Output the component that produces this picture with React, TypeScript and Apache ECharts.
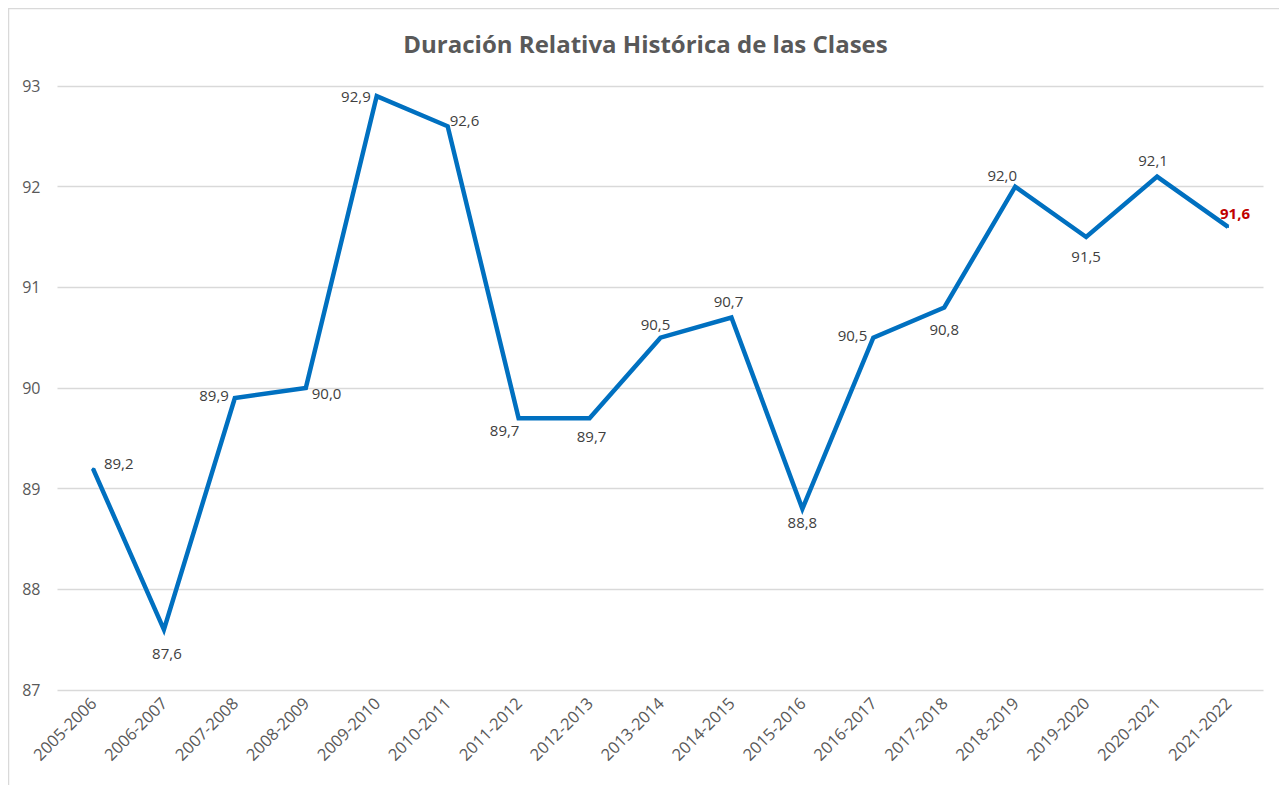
import React, { useEffect, useRef } from "react";
import * as echarts from "echarts";

const categories = [
  "2005-2006", "2006-2007", "2007-2008", "2008-2009", "2009-2010", "2010-2011",
  "2011-2012", "2012-2013", "2013-2014", "2014-2015", "2015-2016", "2016-2017",
  "2017-2018", "2018-2019", "2019-2020", "2020-2021", "2021-2022",
];
const values = [
  89.2, 87.6, 89.9, 90.0, 92.9, 92.6, 89.7, 89.7, 90.5, 90.7, 88.8, 90.5, 90.8,
  92.0, 91.5, 92.1, 91.6,
];
const yTicks = { min: 87, max: 93, interval: 1 };

// label placement per point (style only)
const labelPos: [string, number[]][] = [
  ["right", [5, -6]],
  ["bottom", [3, 10]],
  ["left", [0, -3]],
  ["right", [0, 5]],
  ["left", [0, 0]],
  ["right", [-4, -6]],
  ["bottom", [-14, -2]],
  ["bottom", [2, 4]],
  ["top", [-5, 0]],
  ["top", [-3, -3]],
  ["bottom", [0, 0]],
  ["left", [0, -3]],
  ["bottom", [0, 8]],
  ["top", [-13, 2]],
  ["bottom", [0, 5]],
  ["top", [-4, -3]],
  ["top", [7, 0]],
];

const FONT = "'Open Sans', 'Noto Sans', sans-serif";

export default function App() {
  const ref = useRef<HTMLDivElement>(null);
  useEffect(() => {
    if (!ref.current) return;
    const chart = echarts.init(ref.current, undefined, { renderer: "svg" });
    const last = values.length - 1;
    chart.setOption({
      animation: false,
      backgroundColor: "#ffffff",
      textStyle: { fontFamily: FONT },
      title: {
        text: "Duración Relativa Histórica de las Clases",
        left: "center",
        top: 18,
        textStyle: { fontFamily: FONT, fontSize: 24, fontWeight: "bold", color: "#595959" },
      },
      graphic: [
        {
          type: "rect",
          shape: { x: 0.5, y: 0.5, width: 1273, height: 820 },
          style: { fill: "none", stroke: "#D9D9D9", lineWidth: 1.5 },
          silent: true,
        },
      ],
      grid: { left: 49.5, right: 19.5, top: 78, bottom: 95 },
      xAxis: {
        type: "category",
        data: categories,
        boundaryGap: true,
        axisLine: { show: false },
        axisTick: { show: false },
        axisLabel: {
          rotate: 45,
          margin: 10,
          interval: 0,
          fontSize: 16.5,
          color: "#595959",
          fontFamily: FONT,
        },
      },
      yAxis: {
        type: "value",
        min: yTicks.min,
        max: yTicks.max,
        interval: yTicks.interval,
        axisLine: { show: false },
        axisTick: { show: false },
        splitLine: { lineStyle: { color: "#D9D9D9", width: 1.3 } },
        axisLabel: { fontSize: 16, color: "#595959", margin: 17, fontFamily: FONT },
      },
      series: [
        {
          type: "line",
          data: values.map((v, i) => ({
            value: v,
            label: {
              show: true,
              position: labelPos[i][0],
              offset: labelPos[i][1],
              ...(i === last
                ? { color: "#C00000", fontWeight: "bold", fontSize: 15 }
                : {}),
            },
          })),
          showSymbol: true,
          symbol: "circle",
          symbolSize: 2,
          lineStyle: { color: "#0070C0", width: 4.5, join: "miter" },
          itemStyle: { color: "#0070C0" },
          label: {
            show: true,
            distance: 5,
            fontSize: 15,
            color: "#404040",
            fontFamily: FONT,
            formatter: (p: any) => p.value.toFixed(1).replace(".", ","),
          },
        },
      ],
    });
    return () => chart.dispose();
  }, []);
  return <div ref={ref} style={{ width: 1275, height: 777 }} />;
}
